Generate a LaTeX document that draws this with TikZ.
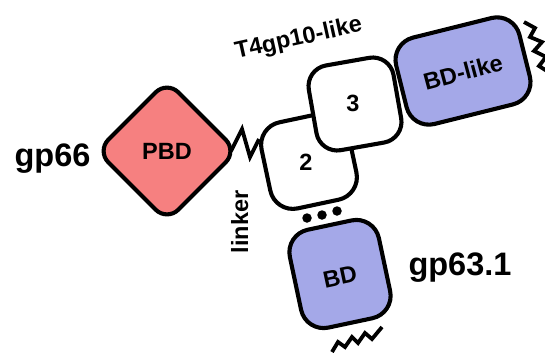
\documentclass[tikz,border=0pt]{standalone}
\usepackage{fontspec}
\setmainfont{Liberation Sans}
\definecolor{pbdpink}{RGB}{246,128,128}
\definecolor{bdblue}{RGB}{164,168,232}
\begin{document}
\begin{tikzpicture}[x=1pt,y=-1pt,
  outl/.style={draw=black,line width=4.1pt,rectangle,inner sep=0pt},
  zig/.style={draw=black,line width=3.8pt,line join=miter,line cap=butt},
  lbl/.style={font=\fontsize{23.5}{28}\selectfont\bfseries,inner sep=0pt},
  big/.style={font=\fontsize{32.5}{38}\selectfont\bfseries,inner sep=0pt},
  dotnode/.style={circle,fill=black,minimum size=9.5pt,inner sep=0pt}]
\useasboundingbox (0,0) rectangle (545,354);
% PBD diamond
\node[outl,fill=pbdpink,rounded corners=16pt,minimum size=99pt,rotate=45] (pbd) at (167,151) {};
\node[lbl] (pbdl) at (pbd) {PBD};
\node[big,anchor=base] (gp66) at (52.5,166) {gp66};
% linker zigzag
\coordinate (zA) at (231,151);
\coordinate (zB) at (259,139);
% domains 2 and 3
\node[outl,fill=white,rounded corners=23pt,minimum size=88pt,rotate=12] (d2) at (309,161) {};
\node[outl,fill=white,rounded corners=21pt,minimum size=86pt,rotate=10] (d3) at (355,104) {};
\draw[zig] (zA) -- (242,129) -- (250,157) -- (zB);
\node[lbl] (l2) at (306,162) {2};
\node[lbl] (l3) at (353,103) {3};
% BD-like
\node[outl,fill=bdblue,rounded corners=23pt,minimum width=127pt,minimum height=89pt,rotate=14] (bdl) at (463,71) {};
\node[lbl,rotate=15] (bdll) at (463,72) {BD-like};
\coordinate (rA) at (524,22);
\draw[zig] (rA) -- (535,28) -- (530,37) -- (542,42) -- (534,51) -- (546,57) -- (539,66) -- (550,73);
\node[lbl,rotate=12.5,anchor=base] (t4) at (300,45) {T4gp10-like};
\node[lbl,rotate=90,anchor=base] (lk) at (248,222) {linker};
% dots
\node[dotnode] (dt1) at (307,218) {};
\node[dotnode] (dt2) at (322,215) {};
\node[dotnode] (dt3) at (337,211) {};
% BD
\node[outl,fill=bdblue,rounded corners=23pt,minimum width=91pt,minimum height=100pt,rotate=12] (bd) at (340,274) {};
\node[lbl,rotate=12] (bdlab) at (340,277) {BD};
\coordinate (bA) at (332,352);
\draw[zig] (bA) -- (338,342) -- (345,347) -- (352,337) -- (358,343) -- (365,333) -- (372,339) -- (382,327);
\node[big,anchor=base] (gp63) at (460,275) {gp63.1};
\end{tikzpicture}
\end{document}
